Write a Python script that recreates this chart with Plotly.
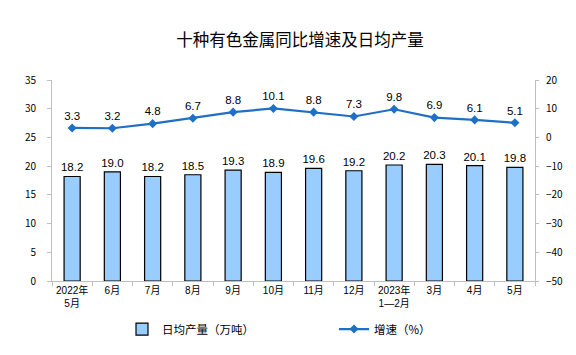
import plotly.graph_objects as go

categories = ["2022年<br>5月", "6月", "7月", "8月", "9月", "10月", "11月", "12月",
              "2023年<br>1—2月", "3月", "4月", "5月"]
output_values = [18.2, 19.0, 18.2, 18.5, 19.3, 18.9, 19.6, 19.2, 20.2, 20.3, 20.1, 19.8]
growth_values = [3.3, 3.2, 4.8, 6.7, 8.8, 10.1, 8.8, 7.3, 9.8, 6.9, 6.1, 5.1]
left_ticks = [0, 5, 10, 15, 20, 25, 30, 35]
right_ticks = [-50, -40, -30, -20, -10, 0, 10, 20]

label_font = dict(family="Liberation Sans, Arial", size=11.5, color="#000000")
tick_font = dict(family="Noto Sans CJK SC", size=10, color="#000000")
xtick_font = dict(family="Liberation Sans, Noto Sans CJK SC", size=10, color="#000000")
legend_font = dict(family="Noto Sans CJK SC", size=11.5, color="#000000")

fig = go.Figure()
fig.add_trace(go.Bar(
    x=categories, y=output_values, name="日均产量（万吨）",
    marker=dict(color="#99CCFF", line=dict(color="#000000", width=1.2)),
    width=0.4,
    text=[f"{v:.1f}" for v in output_values], textposition="outside",
    textfont=label_font, outsidetextfont=label_font, constraintext="none",
    cliponaxis=False, legend="legend",
))
fig.add_trace(go.Scatter(
    x=categories, y=growth_values, name="增速（%）", yaxis="y2",
    mode="lines+markers+text",
    line=dict(color="#1F6FC5", width=2.2),
    marker=dict(symbol="diamond", size=7, color="#1F6FC5"),
    text=[f"{v:.1f}" for v in growth_values], textposition="top center",
    textfont=label_font, cliponaxis=False, legend="legend2",
))

W, H = 576, 355
leg_y = -(334 - 285) / 205
fig.update_layout(
    width=W, height=H,
    margin=dict(l=52, r=41, t=80, b=70),
    paper_bgcolor="white", plot_bgcolor="white",
    title=dict(text="十种有色金属同比增速及日均产量", x=300 / W, xanchor="center",
               xref="container", y=1 - 40 / H, yanchor="middle", yref="container",
               font=dict(family="Noto Sans CJK SC", size=16.5, color="#000000")),
    showlegend=True,
    legend=dict(orientation="h", x=(122 - 52) / 483, xanchor="left", y=leg_y,
                yanchor="middle", font=legend_font, itemwidth=30,
                bgcolor="rgba(0,0,0,0)"),
    legend2=dict(orientation="h", x=(334 - 52) / 483, xanchor="left", y=leg_y,
                 yanchor="middle", font=legend_font, itemwidth=30,
                 bgcolor="rgba(0,0,0,0)"),
    xaxis=dict(type="category", showline=True, linecolor="#BFBFBF", linewidth=1,
               ticks="outside", tickson="boundaries", ticklen=4, tickcolor="#BFBFBF",
               tickfont=xtick_font, tickangle=0, showgrid=False, range=[-0.5, 11.5]),
    yaxis=dict(range=[0, 35], tickvals=left_ticks, showline=True, linecolor="#BFBFBF",
               ticks="outside", ticklen=4, tickcolor="#BFBFBF", showgrid=False,
               zeroline=False, tickfont=tick_font, ticklabelstandoff=9),
    yaxis2=dict(range=[-50, 20], tickvals=right_ticks, overlaying="y", side="right",
                showline=True, linecolor="#BFBFBF", ticks="outside", ticklen=3,
                tickcolor="#BFBFBF", showgrid=False, zeroline=False, tickfont=tick_font,
                ticklabelstandoff=5),
    bargap=0.6,
)

# remove the default page margin so the 576x355 figure fills the window exactly
fig.write_html("out.html", config={"displayModeBar": False},
               post_script="document.body.style.margin='0';document.body.style.overflow='hidden';")
